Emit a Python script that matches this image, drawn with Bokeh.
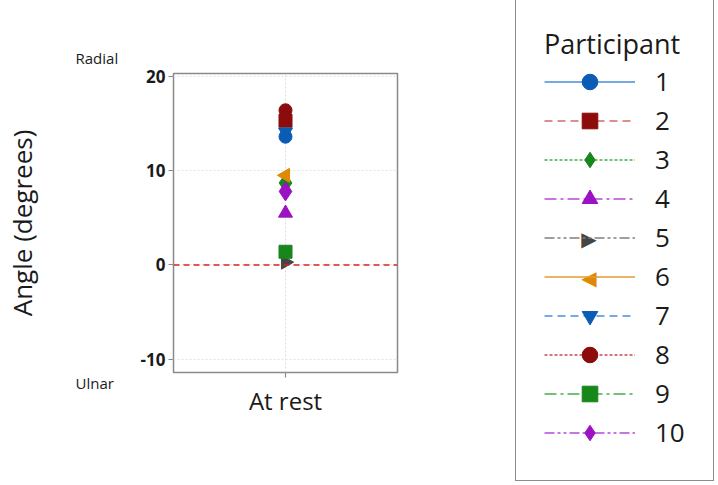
from bokeh.plotting import figure
from bokeh.models import Range1d, FactorRange, Span, Legend, LegendItem, Label, PrintfTickFormatter
from bokeh.embed import file_html
from bokeh.resources import INLINE
import math

conditions = ["At rest"]
participants = ["1", "2", "3", "4", "5", "6", "7", "8", "9", "10"]
angles = [13.6, 15.3, 8.7, 5.5, 0.3, 9.5, 14.1, 16.4, 1.4, 7.8]
markers = ["circle", "square", "diamond", "triangle", "triangle", "triangle",
           "inverted_triangle", "circle", "square", "diamond"]
marker_angles = [0, 0, 0, 0, -math.pi / 2, math.pi / 2, 0, 0, 0, 0]
marker_colors = ["#0b5cb5", "#8c0b0b", "#17861b", "#9a12c4", "#454545",
                 "#de8a06", "#0b5cb5", "#8c0b0b", "#17861b", "#9a12c4"]
line_colors = ["#4a8ed8", "#d46a6a", "#3fb04a", "#b44ad6", "#808080",
               "#e39d2c", "#4a8ed8", "#c44c4c", "#3fb04a", "#b44ad6"]
dashes = ["solid", "8 5", "3 2", "12 4 3 4", "10 3 3 3 3 3",
          "solid", "8 5", "3 2", "12 4 3 4", "10 3 3 3 3 3"]
marker_sizes = [13, 13, 19, 14, 14, 14, 14, 13, 13, 19]
# legend symbols for sideways triangles (legend ignores marker angle)
side_symbols = {4: "\u25B6", 5: "\u25C0"}

FONT = "Open Sans"

p = figure(x_range=FactorRange(*conditions, range_padding=0), y_range=Range1d(-11.4, 20.3),
           frame_width=224, frame_height=299,
           min_border_left=173, min_border_top=73, min_border_bottom=105, min_border_right=317,
           output_backend="svg", toolbar_location=None)

p.outline_line_color = "#8a8a8a"
p.outline_line_width = 1.5
p.background_fill_color = "white"
p.border_fill_color = "white"

for ax in (p.xaxis[0], p.yaxis[0]):
    ax.axis_line_color = None
    ax.major_tick_line_color = "#8a8a8a"
    ax.major_tick_line_width = 1.2
    ax.major_tick_out = 5
    ax.major_tick_in = 0
    ax.minor_tick_line_color = None
    ax.major_label_text_font = FONT
    ax.major_label_text_color = "#1a1a1a"

p.yaxis.ticker = [-10, 0, 10, 20]
p.yaxis.formatter = PrintfTickFormatter(format="%d")
p.yaxis.major_label_text_font_size = "17px"
p.yaxis.major_label_text_font_style = "bold"
p.yaxis.major_label_standoff = 3
p.yaxis.axis_label = "Angle (degrees)"
p.yaxis.axis_label_text_font = FONT
p.yaxis.axis_label_text_font_size = "26px"
p.yaxis.axis_label_text_font_style = "normal"
p.yaxis.axis_label_text_color = "#1a1a1a"
p.yaxis.axis_label_standoff = 98

p.xaxis.major_label_text_font_size = "24px"
p.xaxis.major_label_standoff = 6

p.xgrid.grid_line_color = "#dddddd"
p.xgrid.grid_line_dash = "2 2"
p.ygrid.grid_line_color = "#e4e4e4"
p.ygrid.grid_line_dash = "2 2"

p.add_layout(Span(location=0, dimension="width", line_color="#e02020",
                  line_dash="6 4", line_width=1.6))

items = []
for i, name in enumerate(participants):
    xs = [conditions[0]]
    ys = [angles[i]]
    ln = p.line(xs, ys, line_color=line_colors[i], line_dash=dashes[i], line_width=1.5)
    sc = p.scatter(xs, ys, marker=markers[i], angle=marker_angles[i], size=marker_sizes[i],
                   fill_color=marker_colors[i], line_color=marker_colors[i])
    rends = [ln] if i in side_symbols else [ln, sc]
    items.append(LegendItem(label=name, renderers=rends))

legend = Legend(items=items, location=(118, -108.5), title="Participant",
                title_text_font=FONT, title_text_font_size="27px", title_text_font_style="normal",
                title_text_color="#1a1a1a", title_standoff=-6,
                label_text_font=FONT, label_text_font_size="26px", label_text_color="#1a1a1a",
                glyph_width=91, glyph_height=39, spacing=0, label_standoff=20, label_width=28,
                padding=28, margin=0, border_line_color="#1a1a1a", border_line_width=1.5,
                background_fill_color=None, background_fill_alpha=0.0)
p.add_layout(legend, "right")

# sideways triangle symbols drawn over legend rows 5 and 6 (stacked in the top panel)
sym_y = {4: -165, 5: -228}
for idx, sym in side_symbols.items():
    p.add_layout(Label(x=415.5, y=sym_y[idx], x_units="screen", y_units="screen", text=sym,
                       text_font="DejaVu Sans", text_font_size="20px", text_align="center",
                       text_baseline="middle", text_color=marker_colors[idx], level="overlay"),
                 "above")

p.add_layout(Label(x=-98, y=-32, x_units="screen", y_units="screen", text="Radial",
                   text_font=FONT, text_font_size="15px", text_baseline="middle",
                   text_color="#1a1a1a"), "above")
p.add_layout(Label(x=-98, y=57, x_units="screen", y_units="screen", text="Ulnar",
                   text_font=FONT, text_font_size="15px", text_baseline="middle",
                   text_color="#1a1a1a"), "below")

open("out.html", "w").write(file_html(p, INLINE))
